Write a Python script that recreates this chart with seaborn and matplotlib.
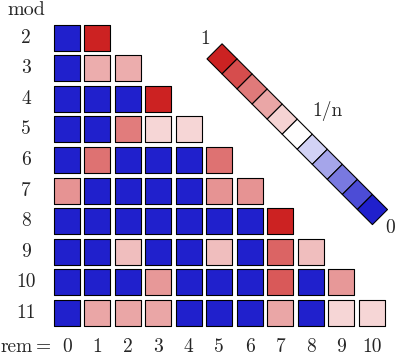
import numpy as np
import pandas as pd
import matplotlib
matplotlib.use('Agg')
import matplotlib.pyplot as plt
import seaborn as sns
from matplotlib.colors import LinearSegmentedColormap
from matplotlib.markers import MarkerStyle
from matplotlib.transforms import Affine2D

# share of the sample falling in each residue class (index = remainder)
mods = [2, 3, 4, 5, 6, 7, 8, 9, 10, 11]
share_2 = [0, 1]
share_3 = [0, 0.50, 0.50]
share_4 = [0, 0, 0, 1]
share_5 = [0, 0, 0.52, 0.27, 0.27]
share_6 = [0, 0.52, 0, 0, 0, 0.52]
share_7 = [0.37, 0, 0, 0, 0, 0.37, 0.37]
share_8 = [0, 0, 0, 0, 0, 0, 0, 1]
share_9 = [0, 0, 0.21, 0, 0, 0.21, 0, 0.52, 0.21]
share_10 = [0, 0, 0, 0.29, 0, 0, 0, 0.56, 0, 0.29]
share_11 = [0, 0.24, 0.24, 0.24, 0, 0, 0, 0.24, 0, 0.14, 0.14]
shares = [share_2, share_3, share_4, share_5, share_6,
          share_7, share_8, share_9, share_10, share_11]

# colour key: 1 at the top, 1/n in the middle, 0 at the bottom
key_levels = [1, 0.8, 0.6, 0.4, 0.2, 0, -0.2, -0.4, -0.6, -0.8, -1]
key_labels = ['1', '1/n', '0']

rows = []
for m, sh in zip(mods, shares):
    for r, v in enumerate(sh):
        # log scale: 0 -> blue, 1/n -> white, 1 -> red
        lev = np.log(m * v) / np.log(m) if v > 0 else -1
        rows.append({'mod': m, 'rem': r, 'level': lev})
cells = pd.DataFrame(rows)

cmap = LinearSegmentedColormap.from_list('bwr_mod', ['#2020CC', 'white', '#CC2222'])

sns.set_style('white')
plt.rcParams['font.family'] = ['cmr10', 'DejaVu Serif']

fig = plt.figure(figsize=(3.95, 3.55), dpi=100)
ax = fig.add_axes([0, 0, 1, 1])

sns.scatterplot(data=cells, x='rem', y='mod', hue='level', palette=cmap,
                hue_norm=(-1, 1), marker='s', s=350, edgecolor='black',
                linewidth=0.8, legend=False, ax=ax)

# diagonal colour key
key = pd.DataFrame({'level': key_levels})
step = 0.493
key['x'] = 5.09 + step * np.arange(len(key))
key['y'] = 2.69 + step * np.arange(len(key))
diamond = MarkerStyle('s', transform=Affine2D().rotate_deg(45))
sns.scatterplot(data=key, x='x', y='y', hue='level', palette=cmap,
                hue_norm=(-1, 1), marker=diamond, s=235, edgecolor='black',
                linewidth=0.8, legend=False, ax=ax)

fs = 14
ax.text(4.53, 2.04, key_labels[0], ha='center', va='center', fontsize=fs)
ax.text(8.53, 4.40, key_labels[1], ha='center', va='center', fontsize=fs)
ax.text(10.6, 8.22, key_labels[2], ha='center', va='center', fontsize=fs)

for m in mods:
    ax.text(-1.34, m, str(m), ha='center', va='center', fontsize=fs)
for r in range(max(mods)):
    ax.text(r, 12.12, str(r), ha='center', va='center', fontsize=fs)
ax.text(-1.34, 1.09, 'mod', ha='center', va='center', fontsize=fs + 0.5)
ax.text(-1.10, 12.12, 'rem', ha='right', va='center', fontsize=fs)
ax.text(-1.02, 12.12, '=', ha='left', va='center', fontsize=fs)

ax.set_xlim(-2.19, 10.76)
ax.set_ylim(12.38, 0.763)
ax.axis('off')

fig.savefig('out.png', dpi=100)
